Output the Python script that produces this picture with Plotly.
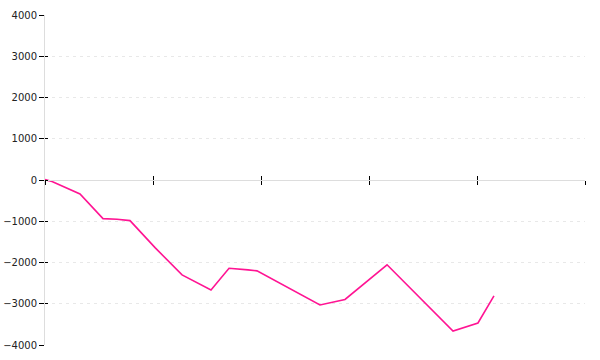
import plotly.graph_objects as go

x_vals = [0, 0.65, 3.24, 5.37, 6.67, 7.87, 10.19, 12.69, 15.37, 17.04, 18.8, 19.63,
          25.46, 26.85, 27.78, 31.67, 37.78, 40.09, 41.57]
y_vals = [10, -36, -340, -937, -950, -985, -1640, -2300, -2664, -2141, -2178, -2202,
          -3029, -2956, -2895, -2056, -3662, -3467, -2810]
x_ticks = [0, 10, 20, 30, 40, 50]
y_ticks = [-4000, -3000, -2000, -1000, 0, 1000, 2000, 3000, 4000]
y_labels = ["\u22124000", "\u22123000", "\u22122000", "\u22121000", "0", "1000", "2000", "3000", "4000"]

fig = go.Figure()
fig.add_trace(go.Scatter(x=x_vals, y=y_vals, mode="lines",
                         line=dict(color="#ff1493", width=1.6), showlegend=False,
                         hoverinfo="skip"))
# invisible trace to keep overlay axes alive
fig.add_trace(go.Scatter(x=[x_ticks[0]], y=[y_ticks[0]], xaxis="x2", yaxis="y2",
                         mode="markers", marker=dict(opacity=0), showlegend=False,
                         hoverinfo="skip"))

font = dict(family="DejaVu Sans", size=10, color="#222")
fig.update_layout(
    width=600, height=360,
    margin=dict(l=45, r=15, t=15, b=15, autoexpand=False),
    paper_bgcolor="white", plot_bgcolor="white",
    font=font,
    xaxis=dict(range=[0, 50], tickvals=x_ticks, showticklabels=False,
               ticks="outside", ticklen=4, tickcolor="#000", tickwidth=1,
               showline=True, linecolor="#ddd", linewidth=1, automargin=False,
               showgrid=False, zeroline=False, anchor="free", position=0.5),
    xaxis2=dict(range=[0, 50], tickvals=x_ticks, showticklabels=False,
                ticks="inside", ticklen=4, tickcolor="#000", tickwidth=1,
                showline=False, showgrid=False, zeroline=False, automargin=False,
                overlaying="x", anchor="free", position=0.5),
    yaxis=dict(range=[-4000, 4000], tickvals=y_ticks, ticktext=y_labels,
               ticks="outside", ticklen=5, tickcolor="#000", tickwidth=1,
               showline=True, linecolor="#ddd", linewidth=1, automargin=False,
               showgrid=True, gridcolor="#e8e8e8", griddash="3px,4px",
               zeroline=False, tickfont=font),
    yaxis2=dict(range=[-4000, 4000], tickvals=y_ticks, showticklabels=False,
                ticks="inside", ticklen=3, tickcolor="#000", tickwidth=1,
                showline=False, showgrid=False, zeroline=False, automargin=False,
                overlaying="y", side="left", anchor="x"),
)
fig.write_html("out.html")
